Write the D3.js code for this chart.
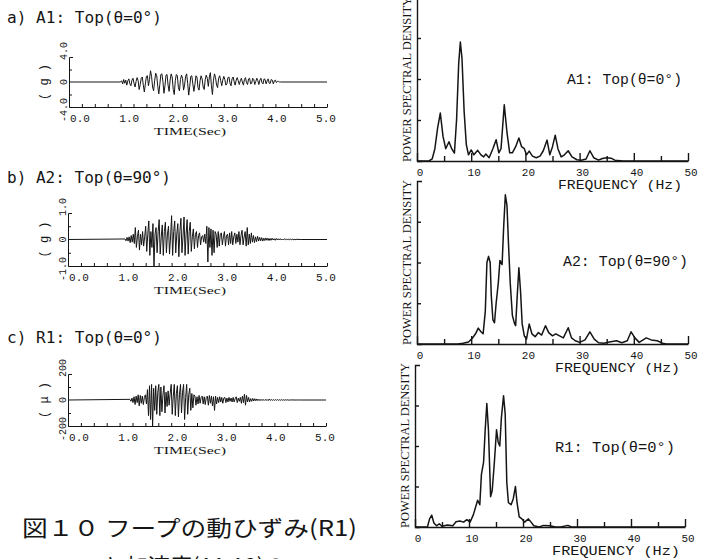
<!DOCTYPE html>
<html><head><meta charset="utf-8">
<script src="https://cdn.jsdelivr.net/npm/d3@7"></script>
<style>body{margin:0;background:#fff}</style>
</head><body>
<svg id="c" width="703" height="559"></svg>
<script>
// ---------- data ----------
const timeTickLabels = ["0.0","1.0","2.0","3.0","4.0","5.0"];
const freqTickLabels = ["0","10","20","30","40","50"];
const sampleStep = 0.02; // s, sampling interval of the recorded traces

const a1Start = 1.0;
const a1Values = [
0,0.2,-0.3,0.4,-0.2,0.3,-0.5,0.2,0.5,-0.3,
-0.6,0.3,0.6,-0.2,-0.8,0.1,0.7,0.2,-1.2,-0.4,
0.6,0.8,-0.5,-1.6,-0.3,0.9,1.0,-0.6,0.4,1.8,
0.9,-0.8,-1.4,0.2,1.4,1.0,-0.7,-1.9,-0.4,1.2,
1.3,0.1,-1.8,-0.6,1.1,1.2,-0.5,-1.5,0.3,1.3,
0.8,-1.2,-2.0,0.2,1.2,1.0,-0.9,-1.4,0.4,1.1,
0.6,-1.3,-0.5,0.9,1.3,-0.2,-2.1,-0.7,0.9,1.0,
-0.3,-1.5,-0.4,1.0,0.8,-0.9,-1.3,0.2,1.0,0.5,
-0.8,-1.2,0.4,1.1,0.6,-0.7,0.8,1.5,-0.6,-2.0,
0.3,1.3,0.7,-0.5,-0.9,0.6,1.0,0.2,-0.6,0.3,
0.9,0.4,-0.5,-0.3,0.7,0.8,-0.2,-0.6,0.5,0.8,
0.1,-0.5,0.3,0.7,0.2,-0.4,0.2,0.6,0.0,-0.5,
0.4,0.7,-0.1,-0.4,0.5,0.6,-0.3,-0.2,0.6,0.4,
-0.4,0.1,0.6,0.2,-0.4,0.3,0.6,-0.1,-0.3,0.5,
0.4,-0.3,0.2,0.5,-0.2,-0.2,0.4,0.3,-0.3,0.2,
0.3,-0.1,0.1,0.1,0,0];

const a2Start = 1.1;
const a2Values = [
0.02,-0.05,0.08,-0.06,0.1,-0.12,0.15,-0.1,0.2,-0.15,
0.45,-0.3,0.1,0.35,-0.4,0.2,-0.2,0.3,-0.25,0.1,
0.5,-0.45,0.2,0.7,-0.6,0.3,-0.3,0.6,-1.0,0.2,
0.45,-0.5,0.3,0.75,-0.55,0.1,0.55,-0.6,0.3,0.65,
-0.5,0.2,0.5,-0.55,0.1,0.9,-0.6,0.3,0.7,-0.5,
0.2,0.6,-0.65,0.3,0.8,-0.5,0.1,0.85,-0.6,0.2,
0.75,-0.55,0.3,0.65,-0.45,0.1,0.4,-0.35,0.2,0.3,
-0.3,0.15,0.25,-0.2,0.1,0.15,-0.1,0.2,-0.15,0.5,
-0.85,0.45,-0.3,0.4,-0.6,0.35,-0.5,0.3,0.2,-0.3,
0.3,-0.25,0.2,0.25,-0.2,0.1,0.3,-0.25,0.15,0.2,
-0.2,0.25,-0.15,0.3,-0.2,0.1,0.25,-0.15,0.2,-0.1,
0.3,-0.2,0.15,0.35,-0.2,0.1,0.3,-0.25,0.45,-0.2,
0.2,-0.15,0.25,-0.1,0.15,-0.12,0.1,-0.08,0.12,-0.06,
0.08,-0.05,0.07,-0.06,0.05,-0.04,0.06,-0.03,0.05,-0.04,
0.04,-0.03,0.05,-0.02,0.03,-0.03,0.04,-0.02,0.03,-0.02,
0.03,-0.02,0.02,-0.02,0.03,-0.01,0.02,-0.02,0.02,-0.01,
0.02,-0.01,0.02,-0.02,0.01,-0.01,0.02,-0.01,0.01,0,0];

const r1Start = 1.2;
const r1Values = [
5,-10,15,-20,25,-35,30,-20,40,-45,
35,-25,30,-35,20,40,-30,80,-120,110,
-150,120,-200,90,-80,110,-110,60,120,-120,
100,-90,40,110,-100,60,-50,70,-40,50,
120,-110,30,120,-120,50,110,-130,40,120,
-100,60,120,-150,20,120,-110,40,90,-80,
50,-60,40,30,-40,25,-30,35,-25,20,
30,-30,25,-35,20,30,-40,35,-25,30,
-45,25,-80,30,-30,20,-20,25,-15,20,
-25,15,20,-20,15,-15,20,-10,15,-15,
20,-15,10,25,-20,15,-10,20,-25,30,
-20,45,-40,35,-15,20,-15,10,-10,12,
-8,10,-6,8,-5,6,-5,5,-4,5,
-4,4,-3,4,-5,8,-3,4,-3,3,
-3,3,-2,3,-2,2,-2,3,-2,2,
-2,2,-1,2,-2,1,-1,2,-1,1,
-1,1,-1,1,0,0];

// power spectral density: [frequency Hz, value in tick units]
const psdA1 = [[0,0],[2.2,0],[2.8,0.05],[3.3,0.3],[3.8,0.8],[4.3,1.17],[4.8,0.6],[5.3,0.3],[5.9,0.47],[6.4,0.3],[6.9,0.19],[7.3,1.0],[7.7,2.4],[8.0,2.9],[8.3,2.5],[8.7,1.2],[9.1,0.4],[9.5,0.15],[10.0,0.27],[10.5,0.15],[11.2,0.26],[11.8,0.15],[12.3,0.1],[12.7,0.17],[13.3,0.08],[14.0,0.3],[14.6,0.52],[15.1,0.2],[15.5,0.3],[16.1,1.37],[16.6,0.7],[17.1,0.2],[17.6,0.2],[18.2,0.35],[18.8,0.56],[19.3,0.35],[19.8,0.3],[20.2,0.15],[20.7,0.24],[21.3,0.12],[22.0,0.08],[22.7,0.12],[23.3,0.25],[24.0,0.51],[24.5,0.15],[25.0,0.35],[25.5,0.63],[26.0,0.3],[26.6,0.1],[27.2,0.15],[27.9,0.25],[28.6,0.1],[29.5,0.03],[30.3,0.02],[31.2,0.05],[31.9,0.25],[32.6,0.08],[33.5,0.02],[34.2,0.06],[35.0,0.08],[35.8,0.07],[36.5,0.02],[38,0],[50,0]];
const psdA2 = [[0,0],[7.5,0],[8.5,0.02],[9.5,0.05],[10.2,0.14],[10.8,0.25],[11.3,0.39],[11.8,0.3],[12.2,0.25],[12.6,0.8],[12.9,2.0],[13.2,2.15],[13.5,2.0],[13.7,1.2],[14.0,0.6],[14.3,0.52],[14.6,1.0],[15.0,1.5],[15.3,2.05],[15.5,2.0],[15.7,1.95],[16.0,2.9],[16.3,3.66],[16.6,3.4],[16.9,2.4],[17.2,1.5],[17.6,0.7],[18.0,0.5],[18.2,0.45],[18.5,1.2],[18.8,1.87],[19.1,1.3],[19.4,0.5],[19.8,0.2],[20.2,0.12],[20.7,0.49],[21.2,0.25],[21.8,0.18],[22.4,0.28],[23.0,0.22],[23.7,0.45],[24.3,0.28],[25.0,0.2],[25.6,0.25],[26.3,0.2],[27.0,0.15],[27.9,0.4],[28.5,0.15],[29.2,0.08],[30.0,0.04],[31.0,0.1],[31.9,0.3],[32.7,0.12],[33.5,0.03],[34.5,0.02],[35.5,0.05],[36.8,0.08],[37.8,0.03],[38.8,0.08],[39.5,0.3],[40.2,0.15],[41.0,0.04],[42.3,0.15],[43.2,0.1],[44.3,0.08],[45.3,0.02],[46.0,0],[50,0]];
const psdR1 = [[0,0],[2.3,0],[2.7,0.2],[3.1,0.29],[3.5,0.1],[4.0,0.03],[4.5,0.08],[5.0,0.02],[6.0,0.05],[7.0,0.03],[7.6,0.13],[8.3,0.15],[9.0,0.12],[9.6,0.18],[10.2,0.12],[10.8,0.3],[11.6,0.66],[12.0,0.55],[12.3,1.3],[12.7,1.6],[13.0,2.4],[13.3,3.05],[13.6,2.4],[14.0,0.75],[14.3,0.9],[14.7,1.6],[15.1,2.4],[15.4,2.1],[15.7,2.0],[16.0,2.7],[16.4,3.24],[16.7,2.8],[17.0,1.1],[17.3,0.6],[17.8,0.55],[18.2,0.7],[18.6,1.0],[18.9,0.6],[19.3,0.25],[19.8,0.2],[20.3,0.12],[21.0,0.2],[21.5,0.12],[22.0,0.03],[23.0,0],[23.8,0.04],[25.0,0.03],[26.0,0],[27.0,0],[28.3,0.04],[29.0,0],[50,0]];

const leftTitles = ["a)  A1: Top(θ=0°)","b)  A2: Top(θ=90°)","c)  R1: Top(θ=0°)"];
const yTickLabelsA1 = [["4.0",4],["0",0],["-4.0",-4]];
const yTickLabelsA2 = [["1.0",1],["0",0],["-1.0",-1]];
const yTickLabelsR1 = [["200",200],["0",0],["-200",-200]];
const rightTitles = ["A1: Top(θ=0°)","A2: Top(θ=90°)","R1: Top(θ=0°)"];
const captionLines = ["図１０ フープの動ひずみ(R1)","と加速度(A1,A2)の"];

// ---------- drawing ----------
const INK = "#151515";
const MONO = "'Liberation Mono','DejaVu Sans Mono',monospace";
const SERIF = "'Liberation Serif','DejaVu Serif',serif";
const svg = d3.select("#c");

function styleAxis(sel, w){
  sel.selectAll("path,line").attr("stroke",INK).attr("stroke-width",w).attr("fill","none");
}

function timePanel(p){
  const g = svg.append("g");
  const x = d3.scaleLinear().domain([0,5]).range([p.x0,p.x1]);
  const y = d3.scaleLinear().domain([-p.lim,p.lim]).range([p.yb,p.yt]);

  g.append("text").attr("x",7).attr("y",p.ty)
    .attr("font-family","'DejaVu Sans Mono',monospace").attr("font-size",15)
    .attr("textLength",p.tlen).attr("lengthAdjust","spacingAndGlyphs")
    .attr("fill",INK).text(p.title);

  const ax = g.append("g").attr("transform",`translate(0,${p.yb})`)
    .call(d3.axisBottom(x).tickValues(d3.range(0,5.001,0.25)).tickSize(-3).tickSizeOuter(0).tickFormat(""));
  styleAxis(ax,1);
  const ay = g.append("g").attr("transform",`translate(${p.x0},0)`)
    .call(d3.axisLeft(y).tickValues([-p.lim/2,p.lim/2]).tickSize(-3).tickSizeOuter(-4).tickFormat(""));
  styleAxis(ay,1);

  const lx = x.copy().range([p.x0+11,p.x1-1]);
  g.selectAll(".tl").data(timeTickLabels).join("text")
    .attr("x",d=>lx(+d)).attr("y",p.yb+15).attr("text-anchor","middle")
    .attr("font-family",MONO).attr("font-size",11).attr("fill",INK).text(d=>d);

  g.append("text").attr("x",190).attr("y",p.yb+28).attr("text-anchor","middle")
    .attr("font-family",SERIF).attr("font-size",11)
    .attr("textLength",72).attr("lengthAdjust","spacingAndGlyphs")
    .attr("fill",INK).text("TIME(Sec)");

  g.selectAll(".yl").data(p.yLabels).join("text")
    .attr("transform",d=>{
      const yy = d[1]>0 ? y(d[1])-6 : (d[1]<0 ? y(d[1])+3 : y(0));
      return `translate(${p.x0-2},${yy}) rotate(-90)`;})
    .attr("text-anchor","middle").attr("font-family",MONO).attr("font-size",10)
    .attr("fill",INK).text(d=>d[0]);

  g.append("text").attr("transform",`translate(48,${y(0)}) rotate(-90)`)
    .attr("text-anchor","middle").attr("font-family",MONO).attr("font-size",12)
    .attr("fill",INK).text(p.unit);

  const pts = [[0,0]].concat(p.values.map((v,i)=>[p.start+i*sampleStep,v]),[[5,0]]);
  g.append("path").datum(pts)
    .attr("d",d3.line().x(d=>x(d[0])).y(d=>y(d[1])))
    .attr("fill","none").attr("stroke",INK).attr("stroke-width",1);
}

function psdPanel(p){
  const g = svg.append("g");
  const x = d3.scaleLinear().domain([0,50]).range([p.x0,p.x1]);
  const y = d3.scaleLinear().domain([0,4]).range([p.yb,p.yt]);

  const axMaj = g.append("g").attr("transform",`translate(0,${p.yb})`)
    .call(d3.axisBottom(x).tickValues(d3.range(0,51,10)).tickSize(-8).tickSizeOuter(0).tickFormat(""));
  styleAxis(axMaj,1.4);
  const axMin = g.append("g").attr("transform",`translate(0,${p.yb})`)
    .call(d3.axisBottom(x).tickValues(d3.range(5,50,10)).tickSize(-5).tickSizeOuter(0).tickFormat(""));
  axMin.select(".domain").remove();
  styleAxis(axMin,1.4);
  const ay = g.append("g").attr("transform",`translate(${p.x0},0)`)
    .call(d3.axisLeft(y).tickValues([1,2,3]).tickSize(-4).tickSizeOuter(-5).tickFormat(""));
  styleAxis(ay,1.4);

  g.selectAll(".tl").data(freqTickLabels).join("text")
    .attr("x",d=>x(+d)+3).attr("y",p.yb+15).attr("text-anchor","middle")
    .attr("font-family",MONO).attr("font-size",11).attr("fill",INK).text(d=>d);

  g.append("text").attr("x",p.fx).attr("y",p.yb+28)
    .attr("font-family",MONO).attr("font-size",12)
    .attr("textLength",p.flen).attr("lengthAdjust","spacingAndGlyphs")
    .attr("fill",INK).text("FREQUENCY (Hz)");

  g.append("text").attr("transform",`translate(${p.x0-6},${p.yb+1}) rotate(-90)`)
    .attr("font-family",SERIF).attr("font-size",12)
    .attr("textLength",165).attr("lengthAdjust","spacingAndGlyphs")
    .attr("fill",INK).text("POWER SPECTRAL DENSITY");

  g.append("text").attr("x",p.tx).attr("y",p.ty)
    .attr("font-family",MONO).attr("font-size",14)
    .attr("textLength",p.tlen).attr("lengthAdjust","spacingAndGlyphs")
    .attr("fill",INK).text(p.title);

  g.append("path").datum(p.data)
    .attr("d",d3.line().x(d=>x(d[0])).y(d=>y(d[1])))
    .attr("fill","none").attr("stroke",INK).attr("stroke-width",1.5)
    .attr("stroke-linejoin","round");
}

timePanel({x0:69,x1:327,yb:107,yt:57,lim:4,ty:23,tlen:155,title:leftTitles[0],
  yLabels:yTickLabelsA1,unit:"( g )",values:a1Values,start:a1Start});
timePanel({x0:68,x1:327,yb:266,yt:213,lim:1,ty:183,tlen:164,title:leftTitles[1],
  yLabels:yTickLabelsA2,unit:"( g )",values:a2Values,start:a2Start});
timePanel({x0:68,x1:326,yb:426,yt:374,lim:200,ty:343,tlen:155,title:leftTitles[2],
  yLabels:yTickLabelsR1,unit:"( μ )",values:r1Values,start:r1Start});

psdPanel({x0:417,x1:688,yb:161,yt:-3,data:psdA1,title:rightTitles[0],tx:567,ty:84,tlen:115,fx:558,flen:124});
psdPanel({x0:417,x1:688,yb:344,yt:181,data:psdA2,title:rightTitles[1],tx:563,ty:266,tlen:125,fx:555,flen:125});
psdPanel({x0:415,x1:685,yb:527,yt:365,data:psdR1,title:rightTitles[2],tx:555,ty:452,tlen:120,fx:552,flen:128});

svg.append("text").attr("x",22).attr("y",536)
  .attr("font-family","'Noto Sans CJK JP',sans-serif").attr("font-size",22)
  .attr("textLength",335).attr("lengthAdjust","spacingAndGlyphs")
  .attr("fill",INK).text(captionLines[0]);
svg.append("text").attr("x",104).attr("y",574)
  .attr("font-family","'Noto Sans CJK JP',sans-serif").attr("font-size",22)
  .attr("fill",INK).text(captionLines[1]);
</script>
</body></html>
